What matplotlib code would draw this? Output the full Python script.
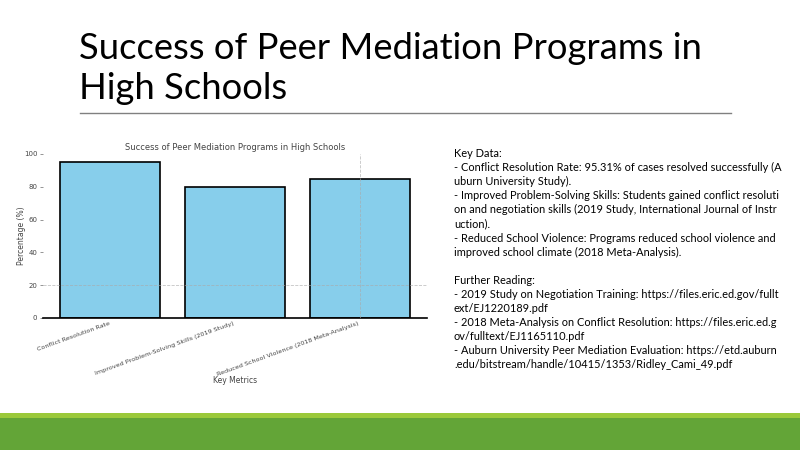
import matplotlib
matplotlib.use("Agg")
import matplotlib.pyplot as plt
from matplotlib.patches import Rectangle
from matplotlib.lines import Line2D

# Chart data
metrics = ["Conflict Resolution Rate",
           "Improved Problem-Solving Skills (2019 Study)",
           "Reduced School Violence (2018 Meta-Analysis)"]
percentages = [95.31, 80, 85]
y_ticks = [0, 20, 40, 60, 80, 100]

title_lines = ["Success of Peer Mediation Programs in", "High Schools"]
chart_title = "Success of Peer Mediation Programs in High Schools"

key_lines = [
    "Key Data:",
    "- Conflict Resolution Rate: 95.31% of cases resolved successfully (A",
    "uburn University Study).",
    "- Improved Problem-Solving Skills: Students gained conflict resoluti",
    "on and negotiation skills (2019 Study, International Journal of Instr",
    "uction).",
    "- Reduced School Violence: Programs reduced school violence and",
    "improved school climate (2018 Meta-Analysis).",
    "",
    "Further Reading:",
    "- 2019 Study on Negotiation Training: https://files.eric.ed.gov/fullt",
    "ext/EJ1220189.pdf",
    "- 2018 Meta-Analysis on Conflict Resolution: https://files.eric.ed.g",
    "ov/fulltext/EJ1165110.pdf",
    "- Auburn University Peer Mediation Evaluation: https://etd.auburn",
    ".edu/bitstream/handle/10415/1353/Ridley_Cami_49.pdf",
]

W, H = 800, 450
fig = plt.figure(figsize=(8, 4.5), dpi=100)
fig.patch.set_facecolor("white")


def px(x, y):
    # slide pixel coords -> figure fraction
    return x / W, 1 - y / H


# slide title, one baseline per line
for i, line in enumerate(title_lines):
    tx, ty = px(79, 59 + i * 40)
    fig.text(tx, ty, line, fontsize=26.2, family="Lato", va="baseline",
             ha="left", color="black")
fig.add_artist(Line2D([80 / W, 731 / W], [1 - 113 / H] * 2, color="#808080", lw=1))

# green bands at the bottom
fig.add_artist(Rectangle((0, 0), 1, 32 / H, color="#63a537", lw=0))
fig.add_artist(Rectangle((0, 32 / H), 1, 5 / H, color="#9bc93a", lw=0))

# inner bar chart
ax = fig.add_axes([43 / W, 132 / H, 384 / W, 164 / H])
x = range(len(metrics))
ax.bar(x, percentages, width=0.8, color="skyblue", edgecolor="black", lw=1.2)
ax.set_ylim(0, 100)
ax.set_yticks(y_ticks)
ax.set_xticks(list(x))
ax.set_xticklabels(metrics, rotation=20, ha="right", fontsize=4.6, color="#444444")
ax.tick_params(axis="y", labelsize=5, colors="#444444", length=2, width=0.4, pad=2)
ax.tick_params(axis="x", length=0, pad=2)
ax.axhline(20, color="#aaaaaa", lw=0.6, ls="--", alpha=0.7, zorder=3)
ax.axvline(2, color="#aaaaaa", lw=0.6, ls="--", alpha=0.7, zorder=3)
for s in ["top", "right", "left"]:
    ax.spines[s].set_visible(False)
ax.spines["bottom"].set_linewidth(1.2)
ax.set_title(chart_title, fontsize=6, color="#444444", pad=3)
ax.set_xlabel("Key Metrics", fontsize=5.5, color="#444444")
ax.xaxis.set_label_coords(0.5, -0.355)
ax.set_ylabel("Percentage (%)", fontsize=5.5, color="#444444")
ax.yaxis.set_label_coords(-0.045, 0.5)

# key data text on the right
for i, line in enumerate(key_lines):
    lx, ly = px(454, 157 + i * 14.1)
    fig.text(lx, ly, line, fontsize=7.9, family="Lato", va="baseline", ha="left",
             color="black")

fig.savefig("out.png", dpi=100)
